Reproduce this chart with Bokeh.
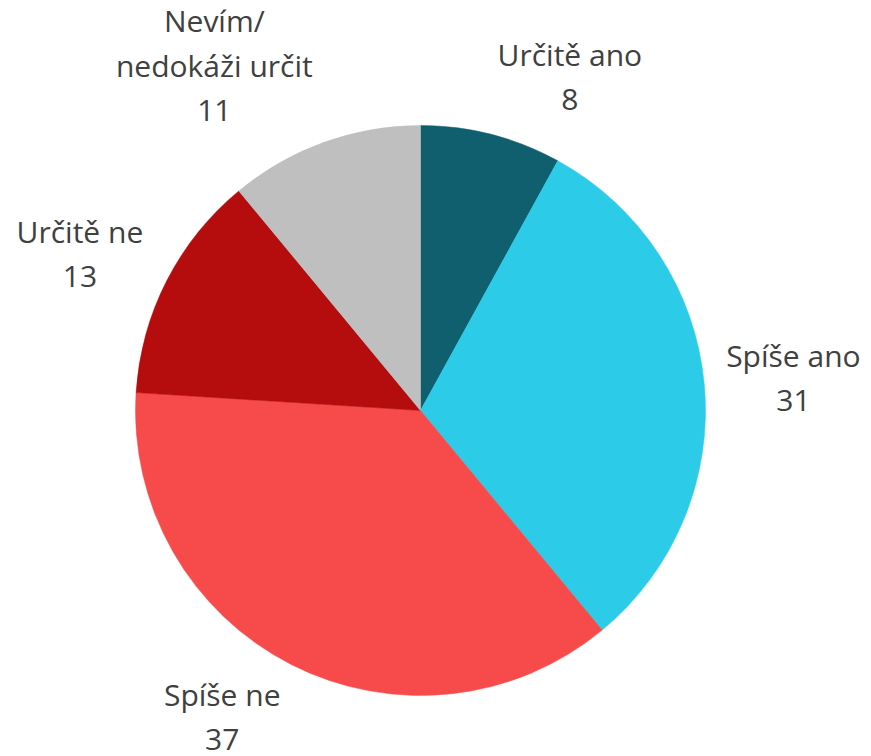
import math
from bokeh.plotting import figure
from bokeh.models import Range1d, ColumnDataSource
from bokeh.embed import file_html
from bokeh.resources import INLINE
from bokeh.core.properties import value

categories = ["Určitě ano", "Spíše ano", "Spíše ne", "Určitě ne", "Nevím/\nnedokáži určit"]
values = [8, 31, 37, 13, 11]
colors = ["#0F5F6E", "#2CCCE9", "#F74B4B", "#B50D0D", "#BFBFBF"]

W, H = 871, 756
CX, CY, R = 420, -410, 285
FS = 30
LH = 45
CHAR_W = 14.5
GAP = 14
GAP_X = 10

p = figure(width=W, height=H, output_backend="svg", toolbar_location=None,
           x_range=Range1d(0, W), y_range=Range1d(-H, 0),
           min_border=0)
p.axis.visible = False
p.grid.visible = False
p.outline_line_color = None
p.background_fill_color = "white"

total = sum(values)
cum = [0]
for v in values:
    cum.append(cum[-1] + v)
starts = [math.pi / 2 - 2 * math.pi * cum[i + 1] / total for i in range(len(values))]
ends = [math.pi / 2 - 2 * math.pi * cum[i] / total for i in range(len(values))]

src = ColumnDataSource(dict(start=starts, end=ends, color=colors))
p.wedge(x=CX, y=CY, radius=R, start_angle="start", end_angle="end",
        fill_color="color", line_color="color", line_width=0.5, source=src)

tx, ty, tt = [], [], []
for i, (cat, v) in enumerate(zip(categories, values)):
    mid = 2 * math.pi * (cum[i] + v / 2) / total
    s, c = math.sin(mid), math.cos(mid)
    ax = CX + (R + GAP) * s + GAP_X * s
    ay = CY + (R + GAP) * c
    lines = cat.split("\n") + [str(v)]
    bw = max(len(l) for l in lines) * CHAR_W
    bh = len(lines) * LH
    xc = ax + bw / 2 if s > 0 else ax - bw / 2
    f = 0.5 + 0.5 * c
    top = ay + f * bh
    for j, l in enumerate(lines):
        tx.append(xc)
        ty.append(top - (j + 0.5) * LH)
        tt.append(l)

p.text(x=tx, y=ty, text=tt, text_align="center", text_baseline="middle",
       text_font=value("Open Sans"), text_font_size=f"{FS}px", text_color="#404040")

open("out.html", "w").write(file_html(p, INLINE))
